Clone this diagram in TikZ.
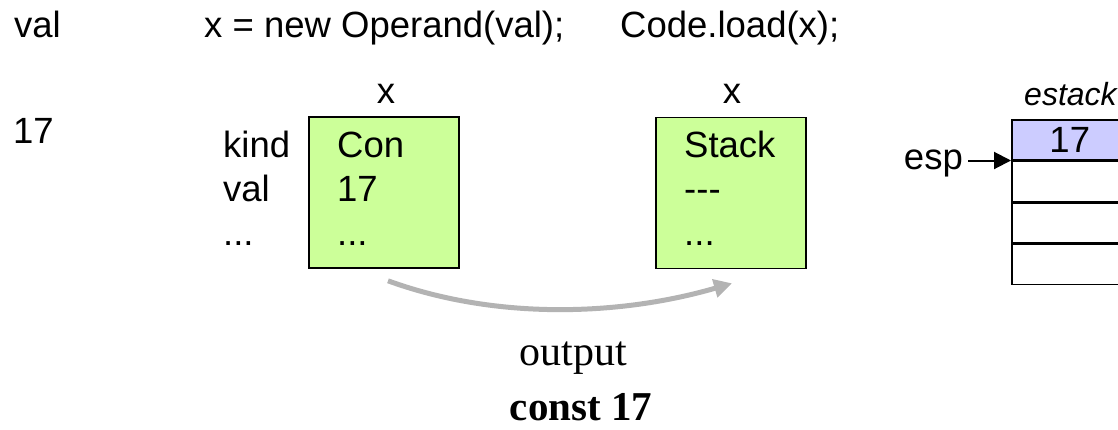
\documentclass[tikz,border=0pt]{standalone}
\usepackage{fontspec}
\setmainfont{Liberation Sans}
\newfontfamily\timesfont{Liberation Serif}
\usetikzlibrary{positioning,arrows.meta}

\definecolor{objgreen}{HTML}{CCFF99}
\definecolor{stkblue}{HTML}{CCCCFF}
\definecolor{flowgray}{HTML}{B3B3B3}

\tikzset{
  txt/.style={inner sep=0pt, anchor=base west, font=\fontsize{36.5}{42}\selectfont},
  obj/.style={draw, line width=1.6pt, fill=objgreen, minimum width=150pt, minimum height=151pt, inner sep=0pt},
  cell/.style={draw, line width=1.5pt, minimum width=116pt, minimum height=40pt, inner sep=0pt, font=\fontsize{36.5}{42}\selectfont},
}

\begin{document}
\begin{tikzpicture}[x=1pt,y=-1pt]
	\clip (0,0) rectangle (1118,429);
	% source line
	\node[txt] (valhdr) at (14,37) {val};
	\node[txt] (newop) at (204,37) {x = new Operand(val);};
	\node[txt] (load) at (620,37) {Code.load(x);};
	\node[txt] (valin) at (13,143) {17};
	% operand object before and after load
	\node[obj] (con) at (384,192.5) {};
	\node[obj] (stk) at (731,193) {};
	\node[txt, anchor=base] (conx) at (386,103) {x};
	\node[txt, anchor=base] (stkx) at (732,103) {x};
	\node[txt] (kindlbl) at (223,157) {kind};
	\node[txt] (vallbl) at (223,201) {val};
	\node[txt] (restlbl) at (223,245) {...};
	\node[txt] (conkind) at (337,157) {Con};
	\node[txt] (conval) at (337,201) {17};
	\node[txt] (conrest) at (337,245) {...};
	\node[txt] (stkkind) at (684,157) {Stack};
	\node[txt] (stkval) at (684,201) {-{}-{}-};
	\node[txt] (stkrest) at (684,245) {...};
	\draw[flowgray, line width=5pt, -{Triangle[length=18pt,width=18pt]}]
	    ([shift={(4,12)}]con.south) .. controls +(110,40) and +(-110,32) .. ([shift={(1,14)}]stk.south);
	% expression stack
	\node[txt, font=\fontsize{32}{38}\selectfont\itshape] (estk) at (1024,105) {estack};
	\node[cell, fill=stkblue, anchor=north west] (row1) at (1011,119) {17};
	\node[cell, below=0pt of row1] (row2) {};
	\node[cell, below=0pt of row2] (row3) {};
	\node[cell, below=0pt of row3] (row4) {};
	\node[txt, anchor=base east] (esp) at (963,169) {esp};
	\draw[line width=2pt, -{Triangle[length=17pt,width=17pt]}]
	    ([xshift=5pt]esp.east |- row1.south west) -- (row1.south west);
	% generated code
	\node[anchor=base, inner sep=0pt, font=\timesfont\fontsize{42}{48}\selectfont] (outlbl) at (573,365) {output};
	\node[anchor=base, inner sep=0pt, font=\timesfont\bfseries\fontsize{41}{50}\selectfont] (code) at (581,420) {const 17};
\end{tikzpicture}
\end{document}
